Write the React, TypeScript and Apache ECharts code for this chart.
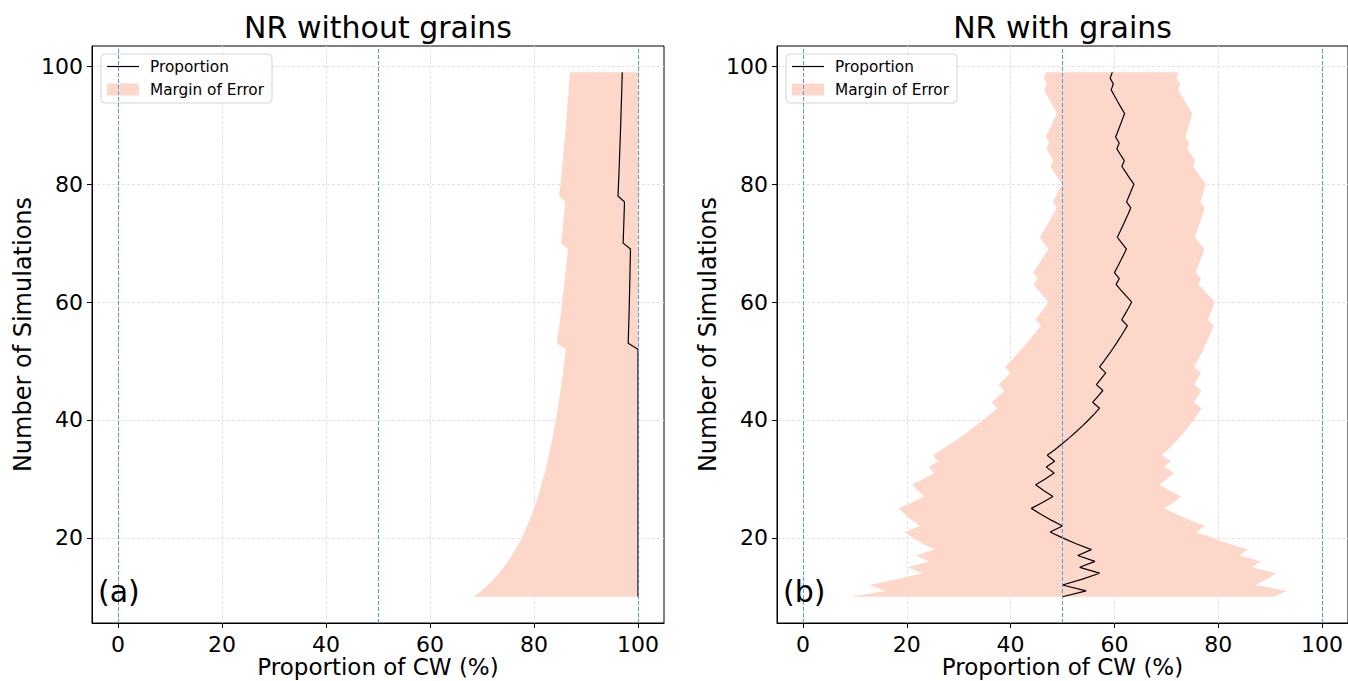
import React, { useEffect, useRef } from 'react';
import * as echarts from 'echarts';

const simulations = [
  10, 11, 12, 13, 14, 15, 16, 17, 18, 19, 20, 21, 22, 23, 24, 25, 26, 27, 28, 29,
  30, 31, 32, 33, 34, 35, 36, 37, 38, 39, 40, 41, 42, 43, 44, 45, 46, 47, 48, 49,
  50, 51, 52, 53, 54, 55, 56, 57, 58, 59, 60, 61, 62, 63, 64, 65, 66, 67, 68, 69,
  70, 71, 72, 73, 74, 75, 76, 77, 78, 79, 80, 81, 82, 83, 84, 85, 86, 87, 88, 89,
  90, 91, 92, 93, 94, 95, 96, 97, 98, 99,
];

// Panel (a): NR without grains
const proportionWithout = [
  100, 100, 100, 100, 100, 100, 100, 100, 100, 100, 100, 100, 100, 100, 100, 100, 100, 100, 100, 100,
  100, 100, 100, 100, 100, 100, 100, 100, 100, 100, 100, 100, 100, 100, 100, 100, 100, 100, 100, 100,
  100, 100, 100, 98.11, 98.15, 98.18, 98.21, 98.25, 98.28, 98.31, 98.33, 98.36, 98.39, 98.41, 98.44, 98.46, 98.48, 98.51, 98.53, 98.55,
  97.14, 97.18, 97.22, 97.26, 97.3, 97.33, 97.37, 97.4, 96.15, 96.2, 96.25, 96.3, 96.34, 96.39, 96.43, 96.47, 96.51, 96.55, 96.59, 96.63,
  96.67, 96.7, 96.74, 96.77, 96.81, 96.84, 96.88, 96.91, 96.94, 96.97,
];
const lowerWithout = [
  68.38, 69.85, 71.13, 72.26, 73.27, 74.18, 75.0, 75.75, 76.43, 77.06, 77.64, 78.18, 78.68, 79.15, 79.59, 80.0, 80.39, 80.75, 81.1, 81.43,
  81.74, 82.04, 82.32, 82.59, 82.85, 83.1, 83.33, 83.56, 83.78, 83.99, 84.19, 84.38, 84.57, 84.75, 84.92, 85.09, 85.26, 85.41, 85.57, 85.71,
  85.86, 86.0, 86.13, 84.38, 84.54, 84.7, 84.85, 85.0, 85.15, 85.29, 85.42, 85.56, 85.69, 85.81, 85.94, 86.06, 86.18, 86.29, 86.4, 86.51,
  85.19, 85.32, 85.44, 85.56, 85.67, 85.79, 85.9, 86.01, 84.83, 84.95, 85.07, 85.19, 85.3, 85.41, 85.52, 85.62, 85.73, 85.83, 85.93, 86.03,
  86.13, 86.22, 86.31, 86.4, 86.49, 86.58, 86.67, 86.75, 86.84, 86.92,
];
const upperWithout = [
  100, 100, 100, 100, 100, 100, 100, 100, 100, 100, 100, 100, 100, 100, 100, 100, 100, 100, 100, 100,
  100, 100, 100, 100, 100, 100, 100, 100, 100, 100, 100, 100, 100, 100, 100, 100, 100, 100, 100, 100,
  100, 100, 100, 100, 100, 100, 100, 100, 100, 100, 100, 100, 100, 100, 100, 100, 100, 100, 100, 100,
  100, 100, 100, 100, 100, 100, 100, 100, 100, 100, 100, 100, 100, 100, 100, 100, 100, 100, 100, 100,
  100, 100, 100, 100, 100, 100, 100, 100, 100, 100,
];

// Panel (b): NR with grains
const proportionWith = [
  50.0, 54.55, 50.0, 53.85, 57.14, 53.33, 56.25, 52.94, 55.56, 52.63,
  50.0, 47.62, 50.0, 47.83, 45.83, 44.0, 46.15, 48.15, 46.43, 44.83,
  46.67, 48.39, 46.88, 48.48, 47.06, 48.57, 50.0, 51.35, 52.63, 53.85,
  55.0, 56.1, 57.14, 55.81, 56.82, 57.78, 56.52, 57.45, 58.33, 57.14,
  58.0, 58.82, 59.62, 60.38, 61.11, 61.82, 62.5, 61.4, 62.07, 62.71,
  63.33, 62.3, 61.29, 60.32, 60.94, 60.0, 60.61, 61.19, 61.76, 62.32,
  61.43, 60.56, 61.11, 61.64, 62.16, 62.67, 63.16, 62.34, 62.82, 63.29,
  63.75, 62.96, 62.2, 61.45, 61.9, 61.18, 60.47, 60.92, 60.23, 60.67,
  61.11, 61.54, 61.96, 61.29, 60.64, 60.0, 59.38, 59.79, 59.18, 59.6,
];
const lowerWith = [
  9.27, 15.88, 12.82, 18.23, 23.07, 20.15, 24.3, 21.76, 25.39, 23.12,
  21.2, 19.55, 22.54, 21.0, 19.63, 18.43, 20.97, 23.38, 22.15, 21.04,
  23.2, 25.27, 24.15, 26.07, 25.01, 26.81, 28.53, 30.18, 31.77, 33.28,
  34.74, 36.13, 37.47, 36.31, 37.58, 38.81, 37.69, 38.87, 40.0, 38.93,
  40.02, 41.07, 42.09, 43.07, 44.02, 44.94, 45.83, 44.79, 45.66, 46.49,
  47.31, 46.31, 45.36, 44.44, 45.23, 44.35, 45.11, 45.86, 46.58, 47.29,
  46.44, 45.62, 46.31, 46.98, 47.64, 48.28, 48.9, 48.11, 48.72, 49.32,
  49.9, 49.14, 48.4, 47.68, 48.26, 47.56, 46.88, 47.44, 46.79, 47.34,
  47.87, 48.4, 48.92, 48.28, 47.66, 47.05, 46.46, 46.97, 46.39, 46.89,
];
const upperWith = [
  90.73, 93.22, 87.18, 89.46, 91.21, 86.51, 88.2, 84.12, 85.73, 82.14,
  78.8, 75.69, 77.46, 74.66, 72.03, 69.57, 71.34, 72.92, 70.71, 68.62,
  70.13, 71.51, 69.6, 70.9, 69.11, 70.34, 71.47, 72.52, 73.5, 74.41,
  75.26, 76.06, 76.81, 75.32, 76.05, 76.74, 75.35, 76.02, 76.66, 75.36,
  75.98, 76.57, 77.14, 77.68, 78.2, 78.69, 79.17, 78.01, 78.48, 78.93,
  79.36, 78.28, 77.23, 76.2, 76.65, 75.65, 76.1, 76.53, 76.95, 77.35,
  76.42, 75.5, 75.91, 76.3, 76.69, 77.05, 77.41, 76.56, 76.92, 77.26,
  77.6, 76.79, 75.99, 75.21, 75.55, 74.79, 74.05, 74.4, 73.67, 74.01,
  74.35, 74.68, 75.0, 74.3, 73.62, 72.95, 72.29, 72.62, 71.97, 72.3,
];

const xTicks = [0, 20, 40, 60, 80, 100];
const yTicks = [20, 40, 60, 80, 100];
const referenceLines = [0, 50, 100];
const panelTitles = ['NR without grains', 'NR with grains'];
const panelTags = ['(a)', '(b)'];
const seriesNames = ['Proportion', 'Margin of Error'];
const xAxisName = 'Proportion of CW (%)';
const yAxisName = 'Number of Simulations';

const FONT = 'DejaVu Sans';
const BAND = '#fdd8ca';
const GRIDS = [
  { left: 92, top: 46, width: 572, height: 577 },
  { left: 777, top: 46, width: 571, height: 577 },
];

const panels = [
  { prop: proportionWithout, lower: lowerWithout, upper: upperWithout },
  { prop: proportionWith, lower: lowerWith, upper: upperWith },
];

function buildOption() {
  const grid = GRIDS.map((g) => ({
    ...g,
    show: true,
    borderColor: '#000',
    borderWidth: 1,
    backgroundColor: 'transparent',
    containLabel: false,
    outerBoundsMode: 'none',
  }));
  const xAxis = GRIDS.map((_, i) => ({
    gridIndex: i,
    type: 'value',
    min: -5,
    max: 105,
    name: xAxisName,
    nameLocation: 'middle',
    nameGap: 32,
    nameMoveOverlap: false,
    nameTextStyle: { fontFamily: FONT, fontSize: 23, color: '#000', lineHeight: 24 },
    axisLine: { show: true, onZero: false, lineStyle: { color: '#000', width: 1 } },
    axisTick: { show: true, length: 5, customValues: xTicks, lineStyle: { color: '#000', width: 1 } },
    axisLabel: { customValues: xTicks, fontFamily: FONT, fontSize: 22, color: '#000', margin: 10 },
    splitLine: { show: true, lineStyle: { color: '#e2e2e2', type: [3, 2], width: 1 } },
  }));
  const yAxis = GRIDS.map((_, i) => ({
    gridIndex: i,
    type: 'value',
    min: 5.55,
    max: 103.45,
    name: yAxisName,
    nameLocation: 'middle',
    nameGap: 57,
    nameTextStyle: { fontFamily: FONT, fontSize: 24, color: '#000' },
    axisLine: { show: true, onZero: false, lineStyle: { color: '#000', width: 1 } },
    axisTick: { show: true, length: 5, customValues: yTicks, lineStyle: { color: '#000', width: 1 } },
    axisLabel: { customValues: yTicks, fontFamily: FONT, fontSize: 22, color: '#000', margin: 9 },
    splitLine: { show: true, lineStyle: { color: '#e2e2e2', type: [3, 2], width: 1 } },
  }));

  const series: any[] = [];
  panels.forEach((p, i) => {
    series.push({
      type: 'custom',
      name: seriesNames[1],
      xAxisIndex: i,
      yAxisIndex: i,
      z: 1,
      itemStyle: { color: BAND },
      data: simulations.map((n, j) => [p.lower[j], p.upper[j], n]),
      encode: { x: [0, 1], y: 2 },
      renderItem: (params: any, api: any) => {
        if (params.dataIndex !== 0) return null;
        const pts: number[][] = [];
        for (let j = 0; j < simulations.length; j++) pts.push(api.coord([p.lower[j], simulations[j]]));
        for (let j = simulations.length - 1; j >= 0; j--) pts.push(api.coord([p.upper[j], simulations[j]]));
        return { type: 'polygon', shape: { points: pts }, style: { fill: BAND } };
      },
    });
    series.push({
      type: 'line',
      name: seriesNames[0],
      xAxisIndex: i,
      yAxisIndex: i,
      z: 3,
      symbol: 'none',
      data: simulations.map((n, j) => [p.prop[j], n]),
      lineStyle: { color: '#000', width: 1.2 },
      itemStyle: { color: '#000' },
      markLine: {
        silent: true,
        symbol: ['none', 'none'],
        label: { show: false },
        lineStyle: { color: '#5b9bd3', type: [4, 2], width: 1 },
        data: referenceLines.map((v) => ({ xAxis: v })),
      },
    });
  });

  const title: any[] = [];
  GRIDS.forEach((g, i) => {
    title.push({
      text: panelTitles[i],
      left: g.left + g.width / 2,
      top: 12,
      textAlign: 'center',
      padding: 0,
      textStyle: { fontFamily: FONT, fontSize: 30, fontWeight: 'normal', color: '#000' },
    });
    title.push({
      text: panelTags[i],
      left: g.left + 6,
      top: 576,
      padding: 0,
      textStyle: { fontFamily: FONT, fontSize: 30, fontWeight: 'normal', color: '#000' },
    });
  });

  const legend = GRIDS.map((g) => ({
    orient: 'vertical',
    left: g.left + 9,
    top: 54,
    data: [
      { name: seriesNames[0], icon: 'path://M0,0H64V2.4H0Z' },
      { name: seriesNames[1], icon: 'rect' },
    ],
    itemWidth: 32,
    itemHeight: 12,
    itemGap: 8,
    padding: [5, 8, 6, 6],
    backgroundColor: 'rgba(255,255,255,0.85)',
    borderColor: '#d4d4d4',
    borderWidth: 1,
    borderRadius: 4,
    selectedMode: false,
    textStyle: { fontFamily: FONT, fontSize: 15.3, color: '#000', lineHeight: 15, padding: [0, 0, 0, 6] },
  }));

  return {
    animation: false,
    backgroundColor: '#fff',
    textStyle: { fontFamily: FONT },
    grid,
    xAxis,
    yAxis,
    title,
    legend,
    series,
  };
}

export default function App() {
  const ref = useRef<HTMLDivElement>(null);
  useEffect(() => {
    if (!ref.current) return;
    const chart = echarts.init(ref.current, null, { renderer: 'svg' });
    chart.setOption(buildOption() as any);
    return () => chart.dispose();
  }, []);
  return <div ref={ref} style={{ width: 1348, height: 681, position: 'absolute', left: 0, top: 0 }} />;
}
